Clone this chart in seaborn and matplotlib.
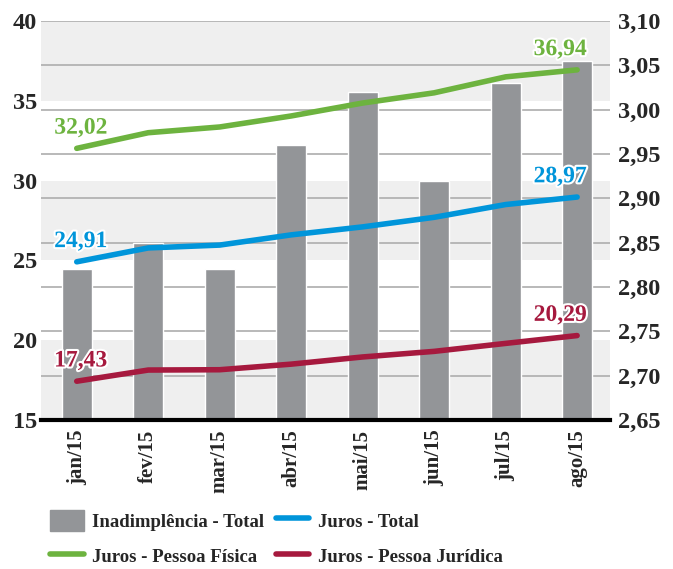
import numpy as np
import pandas as pd
import matplotlib
matplotlib.use("Agg")
import matplotlib.pyplot as plt
import matplotlib.patheffects as pe
from matplotlib.patches import Patch
from matplotlib.lines import Line2D
import seaborn as sns

meses = ["jan/15", "fev/15", "mar/15", "abr/15", "mai/15", "jun/15", "jul/15", "ago/15"]
inadimplencia = [2.82, 2.85, 2.82, 2.96, 3.02, 2.92, 3.03, 3.055]
juros_pf = [32.02, 33.0, 33.36, 34.05, 34.86, 35.5, 36.5, 36.94]
juros_total = [24.91, 25.78, 25.96, 26.6, 27.1, 27.7, 28.5, 28.97]
juros_pj = [17.43, 18.13, 18.15, 18.5, 18.95, 19.3, 19.8, 20.29]

cinza = "#939598"
verde = "#6db33f"
azul = "#0095da"
vinho = "#a6193e"

sns.set_style("white")
plt.rcParams["font.family"] = ["Liberation Serif", "DejaVu Serif"]
plt.rcParams["font.weight"] = "bold"

fig = plt.figure(figsize=(6.73, 5.69), dpi=100)
ax2 = fig.add_axes([41 / 673, 1 - 420 / 569, 569 / 673, 399 / 569])  # barras, eixo direito
ax = ax2.twinx()  # linhas, eixo esquerdo

# faixas cinza (em unidades do eixo esquerdo)
def esq_para_dir(v):
    return 2.65 + (v - 15) * 0.45 / 25

for a, b in [(15, 20), (25, 30), (35, 40)]:
    ax2.axhspan(esq_para_dir(a), esq_para_dir(b), color="#efefef", zorder=0, lw=0)

df_bar = pd.DataFrame({"mes": meses, "valor": inadimplencia})
sns.barplot(data=df_bar, x="mes", y="valor", color=cinza, width=0.42,
            saturation=1, ax=ax2, zorder=2)
ax2.set_ylim(2.65, 3.10)
ax2.set_xlim(-0.5, 7.46)
yt = np.round(np.arange(2.65, 3.101, 0.05), 2)
ax2.set_yticks(yt)
ax2.set_yticklabels([f"{v:.2f}".replace(".", ",") for v in yt])
ax2.yaxis.tick_right()
ax2.grid(axis="y", color="#b3b3b3", lw=1.3, zorder=1)
ax2.set_axisbelow(True)
ax2.set_xlabel("")
ax2.set_ylabel("")

series = [(juros_pf, verde), (juros_total, azul), (juros_pj, vinho)]
x = np.arange(len(meses))
for vals, cor in series:
    sns.lineplot(x=x, y=vals, color=cor, lw=4, ax=ax, solid_capstyle="round")
    for i, dx in [(0, 4), (len(vals) - 1, -17)]:
        ax.annotate(f"{vals[i]:.2f}".replace(".", ","), (x[i], vals[i]),
                    xytext=(dx * 0.72, 7), textcoords="offset points",
                    ha="center", va="bottom", color=cor, fontsize=17,
                    fontweight="bold",
                    path_effects=[pe.withStroke(linewidth=3, foreground="white")])

ax.set_ylim(15, 40)
ax.set_yticks([15, 20, 25, 30, 35, 40])
ax.yaxis.tick_left()
ax.set_xlim(-0.5, 7.46)

for a in (ax, ax2):
    for s in a.spines.values():
        s.set_visible(False)
    a.tick_params(length=0, labelsize=17.5)
ax2.spines["bottom"].set_visible(True)
ax2.spines["bottom"].set_color("black")
ax2.spines["bottom"].set_linewidth(3)
ax2.tick_params(axis="x", labelsize=15, rotation=90, pad=7)
ax2.tick_params(axis="y", pad=6)
ax.tick_params(axis="y", pad=3)

handles = [
    Patch(color=cinza, label="Inadimplência - Total"),
    Line2D([], [], color=verde, lw=4, solid_capstyle="round", label="Juros - Pessoa Física"),
    Line2D([], [], color=azul, lw=4, solid_capstyle="round", label="Juros - Total"),
    Line2D([], [], color=vinho, lw=4, solid_capstyle="round", label="Juros - Pessoa Jurídica"),
]
fig.legend(handles=handles, ncol=2, loc="upper left", bbox_to_anchor=(50 / 673, 1 - 510 / 569),
           frameon=False, handlelength=1.8, handleheight=1.33,
           handletextpad=0.45, labelspacing=0.8, columnspacing=0.6, borderpad=0,
           borderaxespad=0, prop={"weight": "bold", "size": 13.5})

fig.savefig("out.png", dpi=100)
